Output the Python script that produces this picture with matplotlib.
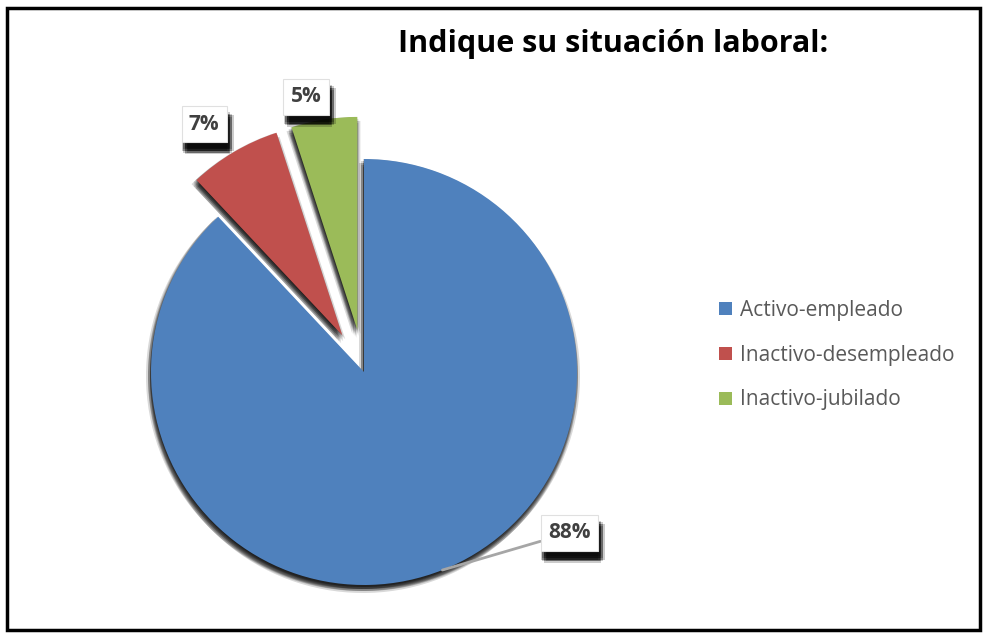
import numpy as np
import matplotlib
matplotlib.use('Agg')
import matplotlib.pyplot as plt
import matplotlib.patheffects as pe
from matplotlib.patches import Rectangle, Shadow

plt.rcParams['font.family'] = ['Open Sans', 'DejaVu Sans']

# data
categories = ['Activo-empleado', 'Inactivo-desempleado', 'Inactivo-jubilado']
values = [88, 7, 5]
pct_labels = ['88%', '7%', '5%']
colors = ['#4F81BD', '#C0504D', '#9BBB59']
explode = [0, 0.2, 0.2]   # fraction of radius

# label placement: (angle offset from wedge mid in deg, distance in radii)
label_pos = [(30.3, 1.224), (2.6, 1.185), (3.4, 1.12)]

W, H = 984, 634
fig = plt.figure(figsize=(W / 100, H / 100), dpi=100)
fig.patch.set_facecolor('white')

ax = fig.add_axes([0, 0, 1, 1])
cx, cy, R = 364, 262, 213
wedges, _ = ax.pie(values, colors=colors, explode=[e * R for e in explode], startangle=90,
                   counterclock=False, radius=R, center=(cx, cy),
                   wedgeprops=dict(linewidth=0, zorder=2))
ax.set_xlim(0, W)
ax.set_ylim(0, H)
ax.axis('off')

# soft (blurred) shadow under the wedges: stack of faint offset copies
k = 72 / fig.dpi
blur = [(dx, dy) for dx in range(-4, 5, 2) for dy in range(-4, 5, 2) if dx * dx + dy * dy <= 17]
for w in wedges:
    for dx, dy in blur:
        s = Shadow(w, (-1 + dx) * k, (-4 + dy) * k, facecolor='black', edgecolor='none', alpha=0.15)
        s.set_zorder(1)
        ax.add_patch(s)

box_shadow = [pe.SimplePatchShadow(offset=(2.5 + dx * 0.6, -6.5 + dy * 0.6), shadow_rgbFace='black', alpha=0.2)
              for dx, dy in blur]

for i, w in enumerate(wedges):
    mid = np.deg2rad((w.theta1 + w.theta2) / 2)
    wx, wy = w.center
    off, dist = label_pos[i]
    ang = mid + np.deg2rad(off)
    tx, ty = wx + dist * R * np.cos(ang), wy + dist * R * np.sin(ang)
    edge = (wx + R * np.cos(mid), wy + R * np.sin(mid))
    arrow = dict(arrowstyle='-', color='#A6A6A6', lw=2, shrinkA=0, shrinkB=0) if i == 0 else None
    t = ax.annotate(pct_labels[i], xy=edge, xytext=(tx, ty), ha='center', va='center',
                    fontsize=15, fontweight='bold', color='#404040',
                    bbox=dict(boxstyle='square,pad=0.35', fc='white', ec='#E0E0E0', lw=0.8),
                    arrowprops=arrow, zorder=5)
    t.get_bbox_patch().set_path_effects(box_shadow + [pe.Normal()])

fig.text(613 / W, 1 - 52 / H, 'Indique su situación laboral:', ha='center', va='baseline',
         fontsize=22, fontweight='bold', color='black')

leg = fig.legend(wedges, categories, loc='center left', bbox_to_anchor=(719 / W, 1 - 355 / H),
                 frameon=False, fontsize=15, labelspacing=1.15, handlelength=0.6,
                 handleheight=0.6, handletextpad=0.4, borderpad=0, borderaxespad=0)
for txt in leg.get_texts():
    txt.set_color('#595959')

# outer border
fig.patches.append(Rectangle((7 / W, 4 / H), 973 / W, 622 / H, transform=fig.transFigure,
                             fill=False, ec='black', lw=2.5, zorder=10))

fig.savefig('out.png', dpi=100)
